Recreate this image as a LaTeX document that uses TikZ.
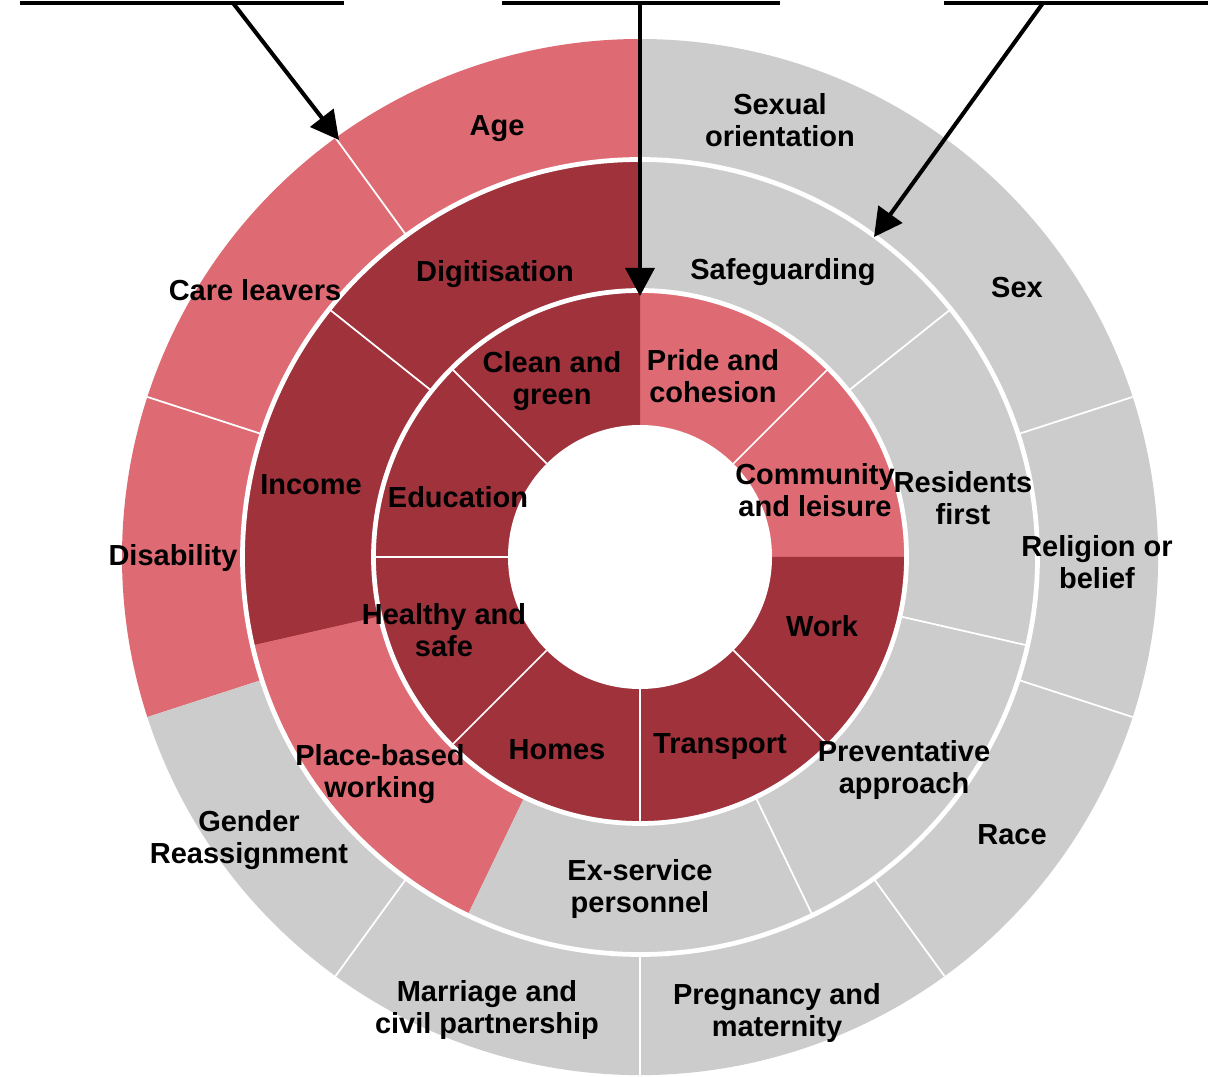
\documentclass[tikz,border=0pt]{standalone}
\usepackage{fontspec}
\setmainfont{Liberation Sans}
\usetikzlibrary{arrows.meta}

\definecolor{paleRed}{HTML}{DE6B73}
\definecolor{deepRed}{HTML}{A0323C}
\definecolor{paleGray}{HTML}{CCCCCC}

\begin{document}
\begin{tikzpicture}[x=0.02cm,y=0.02cm,>={Triangle[length=16pt,width=16.5pt]},
ringtext/.style={font=\bfseries\fontsize{16.5}{18.3}\selectfont, align=center, inner sep=0pt},
divider/.style={white, line width=1pt},
ringgap/.style={white, line width=2.7pt},
topline/.style={line width=2.3pt},
pointer/.style={->, line width=2.3pt}
]
\useasboundingbox (0,0) rectangle (1224,1076);

%% Rings   %%%%%%%%%%%%%%%%%%%%%%%%%%%%%%%%%%%%%%%%%%%%%%%%%%%%%%%%%%%%%%%%%%%%%%%
\begin{scope}[shift={(640,519)}]

%% Outer ring
\foreach \a/\b/\col in {90/198/paleRed, 198/450/paleGray}
\fill [\col] (0,0) -- (\a:518) arc [start angle=\a, end angle=\b, radius=518] -- cycle;

%% Middle ring
\foreach \a/\b/\col in {90/192.86/deepRed, 192.86/244.29/paleRed, 244.29/450/paleGray}
\fill [\col] (0,0) -- (\a:397.5) arc [start angle=\a, end angle=\b, radius=397.5] -- cycle;

%% Inner ring
\foreach \a/\b/\col in {0/90/paleRed, 90/360/deepRed}
\fill [\col] (0,0) -- (\a:266.5) arc [start angle=\a, end angle=\b, radius=266.5] -- cycle;

\fill [white] (0,0) circle [radius=132];

%% Dividers
\foreach \a in {45,135,180,225,270,315}
\draw [divider] (\a:132) -- (\a:266.5);
\foreach \a in {38.57,141.43,295.71,347.14}
\draw [divider] (\a:266.5) -- (\a:397.5);
\foreach \a in {18,54,126,162,234,270,306,342}
\draw [divider] (\a:397.5) -- (\a:518);

\draw [ringgap] (0,0) circle [radius=266.5];
\draw [ringgap] (0,0) circle [radius=397.5];
\end{scope}

%% Texts   %%%%%%%%%%%%%%%%%%%%%%%%%%%%%%%%%%%%%%%%%%%%%%%%%%%%%%%%%%%%%%%%%%%%%%%

%% Outer ring
\node [ringtext] (AGE) at (497,947)  {Age};
\node [ringtext] (CARE) at (255,786)  {Care leavers};
\node [ringtext] (DIS) at (173,518)  {Disability};
\node [ringtext] (GEN) at (249,236)  {Gender\\Reassignment};
\node [ringtext] (MAR) at (487,66)   {Marriage and\\civil partnership};
\node [ringtext] (PREG) at (777,63)   {Pregnancy and\\maternity};
\node [ringtext] (RACE) at (1012,241) {Race};
\node [ringtext] (REL) at (1097,514) {Religion or\\belief};
\node [ringtext] (SEX) at (1017,788) {Sex};
\node [ringtext] (SO) at (780,956)  {Sexual\\orientation};

%% Middle ring
\node [ringtext] (DIG) at (495,802)  {Digitisation};
\node [ringtext] (INC) at (311,591)  {Income};
\node [ringtext] (PBW) at (380,302)  {Place-based\\working};
\node [ringtext] (EXS) at (640,187)  {Ex-service\\personnel};
\node [ringtext] (PREV) at (904,306)  {Preventative\\approach};
\node [ringtext] (RES) at (963,578)  {Residents\\first};
\node [ringtext] (SAFE) at (783,804)  {Safeguarding};

%% Inner ring
\node [ringtext] (CLG) at (552,695)  {Clean and\\green};
\node [ringtext] (PRC) at (713,700)  {Pride and\\cohesion};
\node [ringtext] (COM) at (815,586)  {Community\\and leisure};
\node [ringtext] (WORK) at (822,450)  {Work};
\node [ringtext] (TRA) at (720,329)  {Transport};
\node [ringtext] (HOM) at (557,326)  {Homes};
\node [ringtext] (HAS) at (444,446)  {Healthy and\\safe};
\node [ringtext] (EDU) at (458,579)  {Education};

%% Pointers   %%%%%%%%%%%%%%%%%%%%%%%%%%%%%%%%%%%%%%%%%%%%%%%%%%%%%%%%%%%%%%%%%%%%
\coordinate (L1a) at (20,1073);
\coordinate (L1b) at (344,1073);
\coordinate (L2a) at (502,1073);
\coordinate (L2b) at (780,1073);
\coordinate (L3a) at (944,1073);
\coordinate (L3b) at (1208,1073);

\coordinate (P1) at (233,1073);
\coordinate (P2) at (640,1073);
\coordinate (P3) at (1043,1073);
\coordinate (T1) at (339,936);
\coordinate (T2) at (640,780);
\coordinate (T3) at (874,839);

\draw [topline] (L1a) -- (L1b);
\draw [topline] (L2a) -- (L2b);
\draw [topline] (L3a) -- (L3b);

\draw [pointer] (P1) -- (T1);
\draw [pointer] (P2) -- (T2);
\draw [pointer] (P3) -- (T3);

\end{tikzpicture}
\end{document}
